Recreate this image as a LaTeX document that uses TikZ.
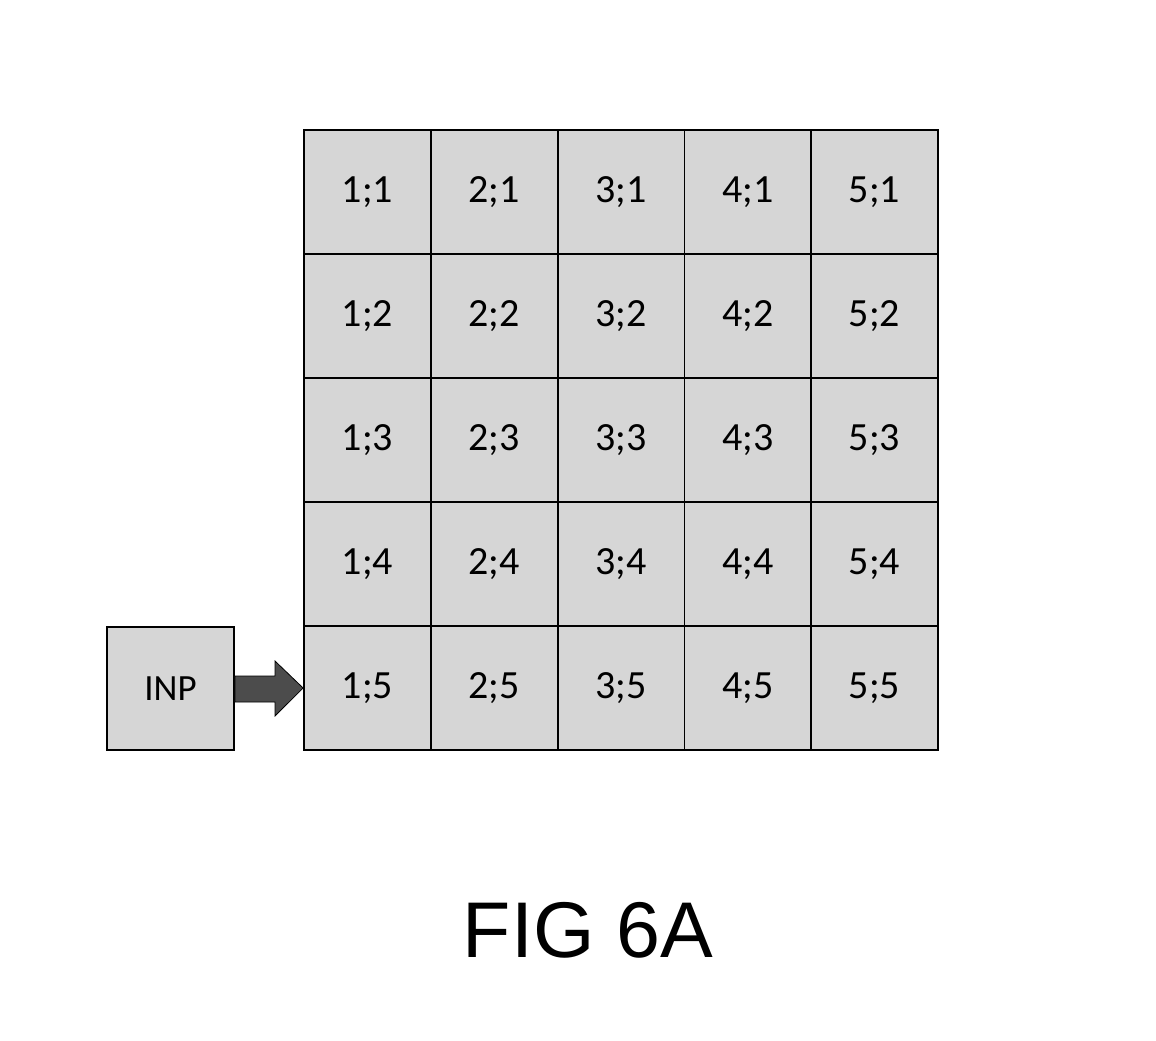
\documentclass[tikz,border=0pt]{standalone}
\usepackage{fontspec}
\setmainfont{Carlito}
\newfontfamily\figfont{Liberation Sans}
\begin{document}
\begin{tikzpicture}[x=0.5pt,y=-0.5pt,
  cellbox/.style={draw=black, line width=0.9pt, fill=black!16, minimum width=63.4pt, minimum height=62pt, inner sep=0pt, anchor=center, font=\fontsize{20}{22}\selectfont},
  inpbox/.style={cellbox, minimum width=63.5pt, minimum height=61.5pt, font=\fontsize{18.5}{21}\selectfont},
  bigarrow/.style={draw=black, line width=0.4pt, fill=black!70}]
\useasboundingbox (0,0) rectangle (1156,1040);
\foreach \c [count=\i] in {1,...,5}{
  \foreach \r in {1,...,5}{
    \node[cellbox] (c\c r\r) at ({304+(\c-0.5)*126.8},{130+(\r-0.5)*124}) {\c;\r};
  }
}
\node[inpbox] (inp) at (170.5,688.5) {INP};
\coordinate (tip) at (c1r5.west);
\fill[bigarrow] (inp.east |- 0,676) -- (275,676) -- (275,661) -- (tip) -- (275,716) -- (275,702) -- (inp.east |- 0,702) -- cycle;
\node[font=\figfont\fontsize{39.5}{44}\selectfont] (fig) at (588,930) {FIG 6A};
\end{tikzpicture}
\end{document}
